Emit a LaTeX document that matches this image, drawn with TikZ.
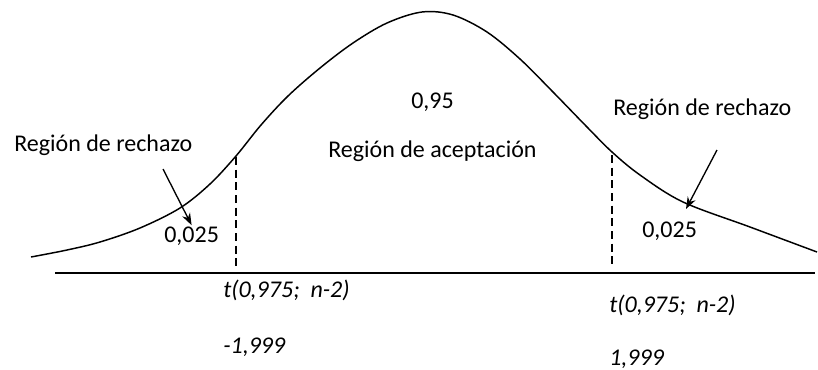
\documentclass[tikz,border=0pt]{standalone}
\usepackage{fontspec}
\setmainfont{Carlito}
\usetikzlibrary{arrows.meta}
\begin{document}
\begin{tikzpicture}[x=0.75pt,y=0.75pt,yscale=-1,xscale=1,
  lbl/.style={anchor=base west,inner sep=0.75pt,font=\fontsize{18}{22}\selectfont},
  ilbl/.style={lbl,font=\fontsize{18}{22}\selectfont\itshape},
  pointer/.style={line width=1pt,-{Stealth[length=9pt,width=6.5pt]}}]
\useasboundingbox (0,0) rectangle (818,369);

%Straight Lines [id:axis]
\coordinate (ax0) at (55,273);
\coordinate (ax1) at (815,273);
\draw [line width=1.5pt] (ax0) -- (ax1) ;
%Curve Lines [id:density]
\draw [line width=1.1pt] plot [smooth,tension=0.55] coordinates {(31,257) (67,250) (100,242) (140,228) (180,208) (210,184) (236,156) (261,125) (288,96) (320,68) (353,43) (387,23) (422,12) (453,15) (487,32) (520,59) (553,92) (587,127) (612,152) (640,175) (683,202) (750,227) (817,252)} ;
%Straight Lines [id:leftcut]
\coordinate (lq) at (236,157);
\draw [line width=1.1pt,dash pattern=on 6pt off 3.5pt] (lq) -- (lq |- 0,267) ;
%Straight Lines [id:rightcut]
\coordinate (rq) at (612,155);
\draw [line width=1.1pt,dash pattern=on 6pt off 3.5pt] (rq) -- (rq |- 0,266) ;

% Text Node
\node (lrej) at (13,151) [lbl] {Región de rechazo};
% Text Node
\node (lval) at (163,242) [lbl] {0,025};
% Text Node
\node (cval) at (410,108) [lbl] {0,95};
% Text Node
\node (acc) at (327,157) [lbl] {Región de aceptación};
% Text Node
\node (rrej) at (612,115) [lbl] {Región de rechazo};
% Text Node
\node (rval) at (641,237) [lbl] {0,025};
% Text Node
\node (lt) at (222,297) [ilbl] {t(0,975;~ n-2)};
% Text Node
\node (lnum) at (222,353) [ilbl] {-1,999};
% Text Node
\node (rt) at (608,312) [ilbl] {t(0,975;~ n-2)};
% Text Node
\node (rnum) at (608,365) [ilbl] {1,999};

%Straight Lines [id:leftarrow]
\coordinate (la) at (163,169);
\draw [pointer] (la) -- (lval.north) ;
%Straight Lines [id:rightarrow]
\coordinate (ra) at (717,150);
\coordinate (rtip) at (686,209);
\draw [pointer] (ra) -- (rtip) ;
\end{tikzpicture}
\end{document}
